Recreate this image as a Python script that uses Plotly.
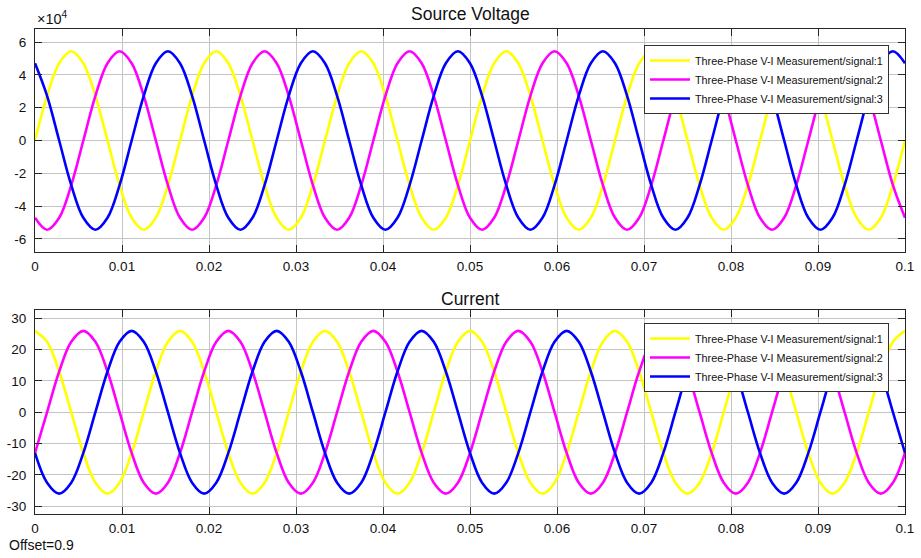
import plotly.graph_objects as go

# ---------------- data ----------------
# sample times, seconds (one sample every 1/720 s)
time_s = [
    0, 0.001389, 0.002778, 0.004167, 0.005556, 0.006944, 0.008333, 0.009722, 0.011111, 0.0125, 0.013889, 0.015278,
    0.016667, 0.018056, 0.019444, 0.020833, 0.022222, 0.023611, 0.025, 0.026389, 0.027778, 0.029167, 0.030556, 0.031944,
    0.033333, 0.034722, 0.036111, 0.0375, 0.038889, 0.040278, 0.041667, 0.043056, 0.044444, 0.045833, 0.047222, 0.048611,
    0.05, 0.051389, 0.052778, 0.054167, 0.055556, 0.056944, 0.058333, 0.059722, 0.061111, 0.0625, 0.063889, 0.065278,
    0.066667, 0.068056, 0.069444, 0.070833, 0.072222, 0.073611, 0.075, 0.076389, 0.077778, 0.079167, 0.080556, 0.081944,
    0.083333, 0.084722, 0.086111, 0.0875, 0.088889, 0.090278, 0.091667, 0.093056, 0.094444, 0.095833, 0.097222, 0.098611,
    0.1,
]

# Source voltage, in units of 1e4 V
voltage_1 = [
    0, 2.72, 4.71, 5.44, 4.71, 2.72, 0, -2.72, -4.71, -5.44, -4.71, -2.72,
    0, 2.72, 4.71, 5.44, 4.71, 2.72, 0, -2.72, -4.71, -5.44, -4.71, -2.72,
    0, 2.72, 4.71, 5.44, 4.71, 2.72, 0, -2.72, -4.71, -5.44, -4.71, -2.72,
    0, 2.72, 4.71, 5.44, 4.71, 2.72, 0, -2.72, -4.71, -5.44, -4.71, -2.72,
    0, 2.72, 4.71, 5.44, 4.71, 2.72, 0, -2.72, -4.71, -5.44, -4.71, -2.72,
    0, 2.72, 4.71, 5.44, 4.71, 2.72, 0, -2.72, -4.71, -5.44, -4.71, -2.72,
    0,
]
voltage_2 = [
    -4.71, -5.44, -4.71, -2.72, 0, 2.72, 4.71, 5.44, 4.71, 2.72, 0, -2.72,
    -4.71, -5.44, -4.71, -2.72, 0, 2.72, 4.71, 5.44, 4.71, 2.72, 0, -2.72,
    -4.71, -5.44, -4.71, -2.72, 0, 2.72, 4.71, 5.44, 4.71, 2.72, 0, -2.72,
    -4.71, -5.44, -4.71, -2.72, 0, 2.72, 4.71, 5.44, 4.71, 2.72, 0, -2.72,
    -4.71, -5.44, -4.71, -2.72, 0, 2.72, 4.71, 5.44, 4.71, 2.72, 0, -2.72,
    -4.71, -5.44, -4.71, -2.72, 0, 2.72, 4.71, 5.44, 4.71, 2.72, 0, -2.72,
    -4.71,
]
voltage_3 = [
    4.71, 2.72, 0, -2.72, -4.71, -5.44, -4.71, -2.72, 0, 2.72, 4.71, 5.44,
    4.71, 2.72, 0, -2.72, -4.71, -5.44, -4.71, -2.72, 0, 2.72, 4.71, 5.44,
    4.71, 2.72, 0, -2.72, -4.71, -5.44, -4.71, -2.72, 0, 2.72, 4.71, 5.44,
    4.71, 2.72, 0, -2.72, -4.71, -5.44, -4.71, -2.72, 0, 2.72, 4.71, 5.44,
    4.71, 2.72, 0, -2.72, -4.71, -5.44, -4.71, -2.72, 0, 2.72, 4.71, 5.44,
    4.71, 2.72, 0, -2.72, -4.71, -5.44, -4.71, -2.72, 0, 2.72, 4.71, 5.44,
    4.71,
]

# Current, A
current_1 = [
    26, 22.5, 13, 0, -13, -22.5, -26, -22.5, -13, 0, 13, 22.5,
    26, 22.5, 13, 0, -13, -22.5, -26, -22.5, -13, 0, 13, 22.5,
    26, 22.5, 13, 0, -13, -22.5, -26, -22.5, -13, 0, 13, 22.5,
    26, 22.5, 13, 0, -13, -22.5, -26, -22.5, -13, 0, 13, 22.5,
    26, 22.5, 13, 0, -13, -22.5, -26, -22.5, -13, 0, 13, 22.5,
    26, 22.5, 13, 0, -13, -22.5, -26, -22.5, -13, 0, 13, 22.5,
    26,
]
current_2 = [
    -13, 0, 13, 22.5, 26, 22.5, 13, 0, -13, -22.5, -26, -22.5,
    -13, 0, 13, 22.5, 26, 22.5, 13, 0, -13, -22.5, -26, -22.5,
    -13, 0, 13, 22.5, 26, 22.5, 13, 0, -13, -22.5, -26, -22.5,
    -13, 0, 13, 22.5, 26, 22.5, 13, 0, -13, -22.5, -26, -22.5,
    -13, 0, 13, 22.5, 26, 22.5, 13, 0, -13, -22.5, -26, -22.5,
    -13, 0, 13, 22.5, 26, 22.5, 13, 0, -13, -22.5, -26, -22.5,
    -13,
]
current_3 = [
    -13, -22.5, -26, -22.5, -13, 0, 13, 22.5, 26, 22.5, 13, 0,
    -13, -22.5, -26, -22.5, -13, 0, 13, 22.5, 26, 22.5, 13, 0,
    -13, -22.5, -26, -22.5, -13, 0, 13, 22.5, 26, 22.5, 13, 0,
    -13, -22.5, -26, -22.5, -13, 0, 13, 22.5, 26, 22.5, 13, 0,
    -13, -22.5, -26, -22.5, -13, 0, 13, 22.5, 26, 22.5, 13, 0,
    -13, -22.5, -26, -22.5, -13, 0, 13, 22.5, 26, 22.5, 13, 0,
    -13,
]

signal_names = [
    "Three-Phase V-I Measurement/signal:1",
    "Three-Phase V-I Measurement/signal:2",
    "Three-Phase V-I Measurement/signal:3",
]
signal_colors = ["#ffff00", "#ff00ff", "#0000ff"]

x_tick_vals = [0, 0.01, 0.02, 0.03, 0.04, 0.05, 0.06, 0.07, 0.08, 0.09, 0.1]
x_tick_text = ["0", "0.01", "0.02", "0.03", "0.04", "0.05", "0.06", "0.07", "0.08", "0.09", "0.1"]
v_tick_vals = [-6, -4, -2, 0, 2, 4, 6]
v_tick_text = ["-6", "-4", "-2", "0", "2", "4", "6"]
i_tick_vals = [-30, -20, -10, 0, 10, 20, 30]
i_tick_text = ["-30", "-20", "-10", "0", "10", "20", "30"]

# ---------------- figure ----------------
FONT = "Arial, Liberation Sans, Helvetica, sans-serif"
fig = go.Figure()

for ys, name, col in zip([voltage_1, voltage_2, voltage_3], signal_names, signal_colors):
    fig.add_trace(go.Scatter(x=time_s, y=ys, name=name, mode="lines",
                             line=dict(color=col, width=2.6, shape="spline", smoothing=1),
                             xaxis="x", yaxis="y", legend="legend"))
for ys, name, col in zip([current_1, current_2, current_3], signal_names, signal_colors):
    fig.add_trace(go.Scatter(x=time_s, y=ys, name=name, mode="lines",
                             line=dict(color=col, width=2.6, shape="spline", smoothing=1),
                             xaxis="x2", yaxis="y2", legend="legend2"))

axis_common = dict(
    showgrid=True, gridcolor="#c4c4c4", gridwidth=1,
    showline=True, linecolor="#262626", linewidth=1, mirror="ticks",
    ticks="inside", ticklen=7, tickcolor="#262626", tickwidth=1,
    zeroline=False, automargin=False, tickfont=dict(family=FONT, size=13.5, color="#111111"),
)

legend_common = dict(
    xanchor="right", yanchor="top", bgcolor="white",
    bordercolor="#333333", borderwidth=1,
    font=dict(family=FONT, size=10.8, color="#111111"),
    tracegroupgap=0, itemwidth=40,
)

fig.update_layout(
    width=921, height=558,
    margin=dict(l=35, r=16, t=29, b=44),
    paper_bgcolor="white", plot_bgcolor="white",
    font=dict(family=FONT, color="#111111"),
    xaxis=dict(domain=[0, 1], anchor="y", range=[0, 0.1], tickvals=x_tick_vals, ticktext=x_tick_text,
               ticklabelstandoff=2, **axis_common),
    yaxis=dict(domain=[0.5402, 1], anchor="x", range=[-6.8, 6.8], tickvals=v_tick_vals, ticktext=v_tick_text,
               ticklabelstandoff=5, **axis_common),
    xaxis2=dict(domain=[0, 1], anchor="y2", range=[0, 0.1], tickvals=x_tick_vals, ticktext=x_tick_text,
                ticklabelstandoff=2, **axis_common),
    yaxis2=dict(domain=[0, 0.4196], anchor="x2", range=[-32.5, 32.5], tickvals=i_tick_vals, ticktext=i_tick_text,
                ticklabelstandoff=5, **axis_common),
    legend=dict(x=0.9816, y=0.967, **legend_common),
    legend2=dict(x=0.9816, y=0.3938, **legend_common),
    showlegend=True,
)

fig.add_annotation(text="Source Voltage", xref="paper", yref="paper", x=0.5, y=1.0309,
                   xanchor="center", yanchor="middle", showarrow=False,
                   font=dict(family=FONT, size=17.5, color="#111111"))
fig.add_annotation(text="Current", xref="paper", yref="paper", x=0.5, y=0.4433,
                   xanchor="center", yanchor="middle", showarrow=False,
                   font=dict(family=FONT, size=17.5, color="#111111"))
fig.add_annotation(text="×10<sup>4</sup>", xref="paper", yref="paper", x=0, y=1.0227,
                   xanchor="left", yanchor="middle", showarrow=False,
                   font=dict(family=FONT, size=14.5, color="#111111"))
fig.add_annotation(text="Offset=0.9", xref="paper", yref="paper", x=-0.0322, y=-0.0639,
                   xanchor="left", yanchor="middle", showarrow=False,
                   font=dict(family=FONT, size=14, color="#111111"))

fig.write_html("out.html", config={"displayModeBar": False},
               post_script="document.body.style.margin='0px';")
